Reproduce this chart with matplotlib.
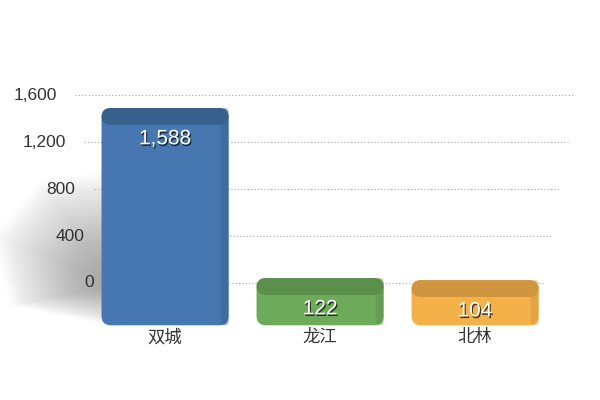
import numpy as np
import matplotlib.pyplot as plt
from matplotlib.patches import FancyBboxPatch, Polygon
import matplotlib.patheffects as pe

plt.rcParams['font.family'] = ['Noto Sans CJK SC', 'DejaVu Sans']

# ── Data ──
categories   = ['双城', '龙江', '北林']
values       = [1588, 122, 104]
value_labels = ['1,588', '122', '104']
ticks        = [0, 400, 800, 1200, 1600]
tick_labels  = ['0', '400', '800', '1,200', '1,600']

front_colors = ['#4677b0', '#6dab5b', '#f4b14a']
top_colors   = ['#36608e', '#5b8f4b', '#d0953f']

W, H = 600, 400
fig = plt.figure(figsize=(6, 4), dpi=100)

# ── Back plane: x in pixels, y in value units (perspective gridlines) ──
back = fig.add_axes([0, 0, 1, 1])
back.set_xlim(0, W)
back.set_ylim(-996, 2409)
back.axis('off')

def left_edge(v):
    return 112 - 37 * v / 1600

def right_edge(v):
    return 545 + 30 * v / 1600

for v, lab in zip(ticks, tick_labels):
    back.hlines(v, left_edge(v), right_edge(v), colors='#a8a8a8',
                linestyles=(0, (1, 2)), lw=0.8)
    back.text(left_edge(v) - 18, v, lab, ha='right', va='center',
              fontsize=12.5, color='#333333', family='Liberation Sans')

# soft shadow cast to the left of the tall bar
shape = np.array([(124, 328), (102, 172), (40, 182), (-5, 235), (10, 305)], float)
anchor = np.array([116, 285.0])
for s in np.linspace(1.0, 0.15, 30):
    pts = anchor + (shape - anchor) * s
    pts_fig = np.column_stack([pts[:, 0] / W, (H - pts[:, 1]) / H])
    back.add_patch(Polygon(pts_fig, closed=True, transform=fig.transFigure,
                           facecolor='#555555', edgecolor='none', alpha=0.018))

# ── Bars: x in category index, y in value units ──
bars = fig.add_axes([0, 0, 1, 1])
bars.patch.set_alpha(0)
bars.set_xlim(-1.065, 2.806)
bars.set_ylim(-784, 2664)
bars.axis('off')

base = -140
depth = 145
width = 0.82
x = np.arange(len(categories))

px_x = W / (2.806 + 1.065)
px_y = H / (2664 + 784)
aspect = px_x / px_y

rects = bars.bar(x, [v - base for v in values], bottom=base, width=width,
                 color=front_colors)
for r, fc, tc, v in zip(rects, front_colors, top_colors, values):
    x0, y0, w, h = r.get_x(), r.get_y(), r.get_width(), r.get_height()
    r.remove()
    bars.add_patch(FancyBboxPatch((x0, y0), w, h + depth,
                                  boxstyle='round,pad=0,rounding_size=0.06',
                                  mutation_aspect=aspect, facecolor=fc,
                                  edgecolor='none'))
    # darker right side
    bars.add_patch(FancyBboxPatch((x0 + w - 0.05, y0), 0.05, h + depth,
                                  boxstyle='round,pad=0,rounding_size=0.025',
                                  mutation_aspect=aspect, facecolor=tc,
                                  edgecolor='none', alpha=0.45))
    # top face
    bars.add_patch(FancyBboxPatch((x0, v), w, depth,
                                  boxstyle='round,pad=0,rounding_size=0.06',
                                  mutation_aspect=aspect, facecolor=tc,
                                  edgecolor='none'))

shadow = [pe.withSimplePatchShadow(offset=(0.8, -1.2), shadow_rgbFace='#111111', alpha=0.8)]
for i, (v, lab) in enumerate(zip(values, value_labels)):
    bars.text(i, v - 120, lab, ha='center', va='center', fontsize=15,
              color='white', family='Liberation Sans', path_effects=shadow)

for i, cat in enumerate(categories):
    bars.text(i, base - 25, cat, ha='center', va='top', fontsize=12.5,
              color='#333333')

fig.savefig('out.png', dpi=100)
